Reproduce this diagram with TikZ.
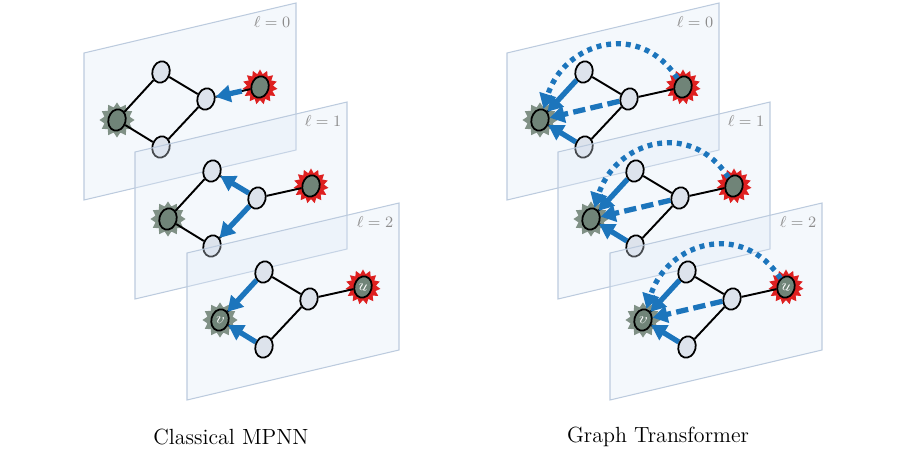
\documentclass[tikz,border=0pt]{standalone}
\usetikzlibrary{shapes.geometric,arrows.meta}
\definecolor{msgblue}{RGB}{28,117,188}
\definecolor{planefill}{RGB}{222,233,246}
\definecolor{planeline}{RGB}{188,203,222}
\definecolor{vtxfill}{RGB}{221,227,236}
\definecolor{hubfill}{RGB}{112,132,120}
\definecolor{hubstar}{RGB}{128,145,134}
\definecolor{srcstar}{RGB}{222,32,32}
\tikzset{
  plane/.style={draw=planeline,fill=planefill,fill opacity=.32,line width=.6pt},
  lvl/.style={text=black!45,font=\small},
  vtx/.style={ellipse,draw,line width=1pt,fill=vtxfill,minimum width=9.8pt,minimum height=12.3pt,inner sep=0pt,rotate=-15},
  hub/.style={vtx,fill=hubfill,text=white,font=\small},
  glow/.style={star,star point ratio=1.35,minimum size=20pt,inner sep=0pt},
  edge/.style={line width=1.1pt},
  msg/.style={color=msgblue,line width=3pt,-{Triangle[length=8.5pt,width=9.5pt]}},
}
\begin{document}
\begin{tikzpicture}[x=0.02cm,y=-0.02cm]
\useasboundingbox (0,0) rectangle (902,456);
\foreach \s/\dx in {L/0,R/423}
\foreach \k/\px/\py in {0/84/53,1/135/152,2/187/253}{
\begin{scope}[shift={(\px+\dx,\py)}]
\draw[plane] (0,0) -- (212,-50) -- (212,97) -- (0,147) -- cycle;
\node[lvl] (\s\k l) at (188,-31) {$\ell = \k$};
\node[glow,star points=12,fill=hubstar] (\s\k vs) at (33,67) {};
\node[glow,star points=15,fill=srcstar] (\s\k us) at (176,34) {};
\node[hub] (\s\k v) at (33,67) {\ifnum\k=2 $v$\fi};
\node[hub] (\s\k u) at (176,34) {\ifnum\k=2 $u$\fi};
\node[vtx] (\s\k a) at (77,19) {};
\node[vtx] (\s\k b) at (122,46) {};
\node[vtx] (\s\k c) at (77,94) {};
\draw[edge] (\s\k v) -- (\s\k a) -- (\s\k b) -- (\s\k c) -- (\s\k v) (\s\k b) -- (\s\k u);
% messages
\if\s L
  \ifcase\k
    \draw[msg,shorten <=5pt] (\s\k u) -- (\s\k b);
  \or
    \draw[msg] (\s\k b) -- (\s\k a);
    \draw[msg] (\s\k b) -- (\s\k c);
  \or
    \draw[msg] (\s\k a) -- (\s\k v);
    \draw[msg] (\s\k c) -- (\s\k v);
  \fi
\else
  \draw[msg] (\s\k a) -- (\s\k v);
  \draw[msg] (\s\k c) -- (\s\k v);
  \draw[msg,dash pattern=on 7pt off 3pt] (\s\k b) -- (\s\k v);
  \draw[msg,dash pattern=on 2.8pt off 2.8pt] (\s\k u) to[out=125,in=75,looseness=1.3] (\s\k v);
\fi
\end{scope}
}
\node[font=\fontsize{12.5}{15}\selectfont] (capL) at (231,437) {Classical MPNN};
\node[font=\fontsize{12.5}{15}\selectfont] (capR) at (658,437) {Graph Transformer};
\end{tikzpicture}
\end{document}
